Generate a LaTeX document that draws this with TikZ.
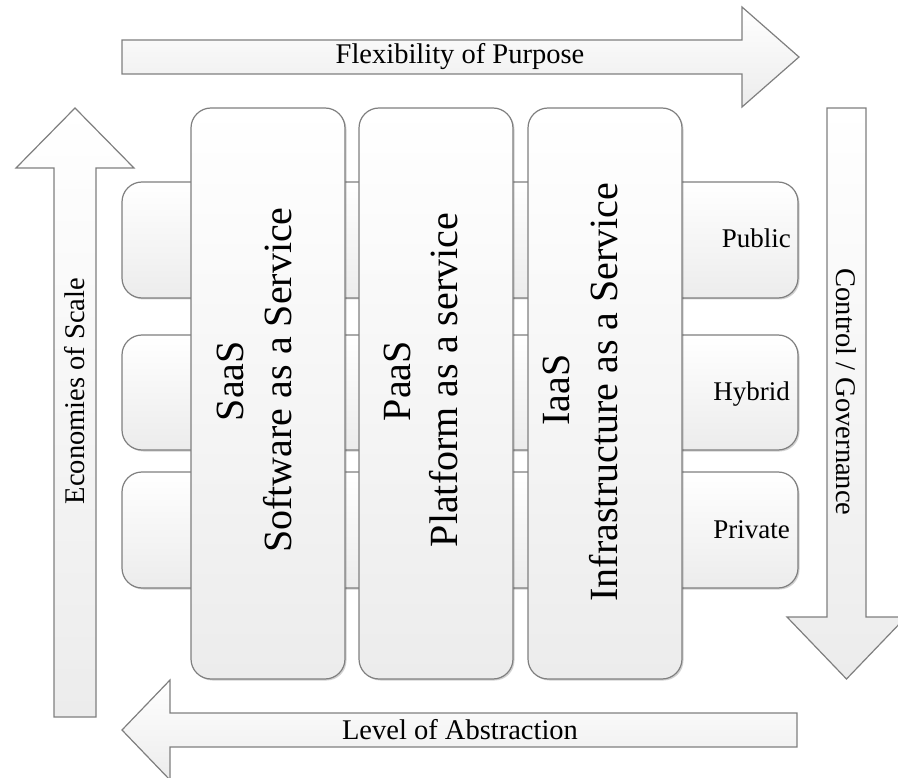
\documentclass[tikz,border=0pt]{standalone}
\usepackage{fontspec}
\setmainfont{Liberation Serif}
\usetikzlibrary{shadows}

\definecolor{edgegray}{HTML}{7F7F7F}
\definecolor{shadebottom}{HTML}{ECECEC}

\tikzset{
  panel/.style={rectangle, draw=edgegray, line width=1.2pt, rounded corners=20pt,
    top color=white, bottom color=shadebottom, inner sep=0pt,
    drop shadow={shadow xshift=1.5pt, shadow yshift=-1.5pt, opacity=0.18, fill=black}},
  bigarrow/.style={draw=edgegray, line width=1.2pt, line join=miter,
    top color=white, bottom color=shadebottom},
  axislabel/.style={font=\fontsize{28.5}{34}\selectfont, inner sep=0pt},
  servicelabel/.style={font=\fontsize{40}{48}\selectfont, inner sep=0pt, rotate=90, anchor=base},
  rowlabel/.style={font=\fontsize{27}{32}\selectfont, inner sep=0pt, anchor=base east},
}

\begin{document}
\begin{tikzpicture}[x=1pt, y=-1pt]
  \useasboundingbox (0,0) rectangle (898,778);

  % axis arrows around the grid
  \draw[bigarrow] (122,40) -- (742,40) -- (742,7) -- (799,57) -- (742,107)
    -- (742,74) -- (122,74) -- cycle;
  \draw[bigarrow] (54,717) -- (54,168) -- (16,168) -- (75,108) -- (134,168)
    -- (96,168) -- (96,717) -- cycle;
  \draw[bigarrow] (827,108) -- (866,108) -- (866,617) -- (906,617) -- (846.5,679)
    -- (787,617) -- (827,617) -- cycle;
  \draw[bigarrow] (797,713) -- (797,747) -- (170,747) -- (170,780) -- (122,730)
    -- (170,680) -- (170,713) -- cycle;

  \node[axislabel] (flex) at (460,57) {Flexibility of Purpose};
  \node[axislabel] (abstr) at (460,730) {Level of Abstraction};
  \node[axislabel, rotate=90] (econ) at (75,391) {Economies of Scale};
  \node[axislabel, rotate=-90] (ctrl) at (846.5,392) {Control / Governance};

  % deployment rows
  \node[panel, minimum width=676pt, minimum height=116pt] (public) at (460,240) {};
  \node[panel, minimum width=676pt, minimum height=115pt] (hybrid) at (460,392.5) {};
  \node[panel, minimum width=676pt, minimum height=116pt] (private) at (460,530) {};

  \node[rowlabel] (publiclbl) at (791,248) {Public};
  \node[rowlabel] (hybridlbl) at (790,400) {Hybrid};
  \node[rowlabel] (privatelbl) at (790,538) {Private};

  % service model columns
  \node[panel, minimum width=154pt, minimum height=571pt] (saas) at (268,393.5) {};
  \node[panel, minimum width=154pt, minimum height=571pt] (paas) at (436,393.5) {};
  \node[panel, minimum width=154pt, minimum height=571pt] (iaas) at (605,393.5) {};

  \node[servicelabel] (saas1) at (243,381) {SaaS};
  \node[servicelabel] (saas2) at (291,380) {Software as a Service};
  \node[servicelabel] (paas1) at (410,381) {PaaS};
  \node[servicelabel] (paas2) at (457,380) {Platform as a service};
  \node[servicelabel] (iaas1) at (569,390) {IaaS};
  \node[servicelabel] (iaas2) at (617,392) {Infrastructure as a Service};
\end{tikzpicture}
\end{document}
